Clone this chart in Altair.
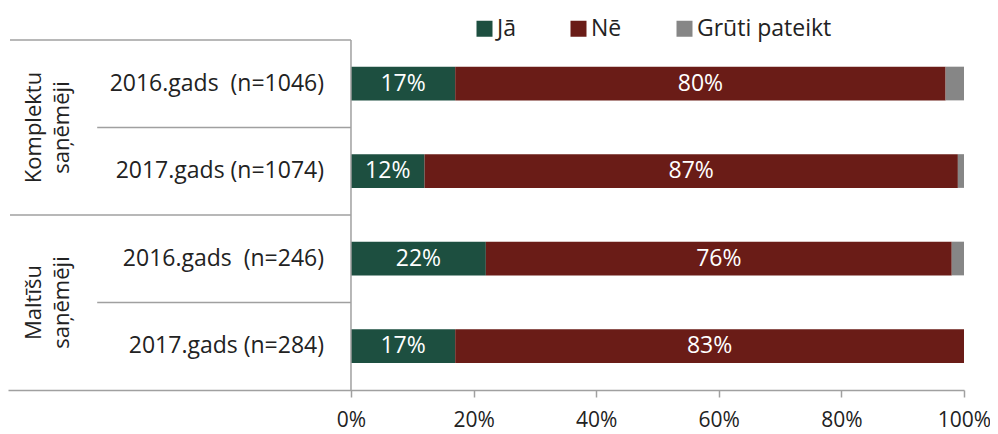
import altair as alt
import pandas as pd

# ---- data ----
categories = ["Jā", "Nē", "Grūti pateikt"]
colors = ["#1d4f40", "#6a1c17", "#868686"]
group_lines = [["Komplektu", "saņēmēji"], ["Maltīšu", "saņēmēji"]]
row_labels = ["2016.gads\u00a0\u00a0(n=1046)", "2017.gads (n=1074)",
              "2016.gads\u00a0\u00a0(n=246)", "2017.gads (n=284)"]
row_group = [0, 0, 1, 1]
ja = [17, 12, 22, 17]
ne = [80, 87, 76, 83]
gruti = [3, 1, 2, 0]
tick_values = [0, 20, 40, 60, 80, 100]

FONT = "Open Sans"
TXT = "#222222"
LINE = "#a0a0a0"
XMIN = -55.95         # left edge of the plot area (scale units)
TABLE_X = -55.63      # where the table lines start
ROWSEP_X = -41.4      # where the inner row separators start

# ---- build tables ----
seg = []
for i in range(len(row_labels)):
    cum = 0
    for c, v in zip(categories, [ja[i], ne[i], gruti[i]]):
        seg.append(dict(row=i, cat=c, x0=cum, x1=cum + v, xm=cum + v / 2,
                        ytop=i + 0.305, ybot=i + 0.69, ymid=i + 0.5,
                        label=(f"{v}%" if c != "Grūti pateikt" and v > 0 else "")))
        cum += v
seg = pd.DataFrame(seg)

rows = pd.DataFrame(dict(label=row_labels, y=[i + 0.5 for i in range(len(row_labels))]))

ngroups = len(group_lines)
gdf = []
for g in range(ngroups):
    idx = [i for i, gg in enumerate(row_group) if gg == g]
    gdf.append(dict(text=group_lines[g], y=(min(idx) + max(idx) + 1) / 2))
gdf = pd.DataFrame(gdf)

lines = []
lines.append(dict(x=TABLE_X, x2=0, y=0, y2=0))
for i in range(1, len(row_labels)):
    if row_group[i] != row_group[i - 1]:
        lines.append(dict(x=TABLE_X, x2=0, y=i, y2=i))
    else:
        lines.append(dict(x=ROWSEP_X, x2=0, y=i, y2=i))
lines.append(dict(x=0, x2=0, y=0, y2=len(row_labels)))
lines = pd.DataFrame(lines)

xscale = alt.Scale(domain=[XMIN, 100], nice=False, zero=False)
yscale = alt.Scale(domain=[0, len(row_labels)], reverse=True, nice=False, zero=False)

xaxis = alt.Axis(values=tick_values, labelExpr="datum.value + '%'", grid=False,
                 title=None, domainColor=LINE, domainWidth=1.5, tickColor=LINE,
                 tickWidth=1.5, tickSize=7,
                 labelFontSize=21, labelFont=FONT, labelColor=TXT, labelPadding=12,
                 labelFlush=False, labelOverlap=False)

bars = alt.Chart(seg).mark_rect().encode(
    x=alt.X("x0:Q", scale=xscale, axis=xaxis),
    x2="x1:Q",
    y=alt.Y("ytop:Q", scale=yscale, axis=None),
    y2="ybot:Q",
    color=alt.Color("cat:N", scale=alt.Scale(domain=categories, range=colors),
                    legend=alt.Legend(orient="none", legendX=465, legendY=-23,
                                      direction="horizontal", title=None,
                                      symbolType="square", symbolSize=256,
                                      symbolStrokeWidth=0, symbolOpacity=1,
                                      labelExpr="datum.label == 'Jā' ? 'Jā\u00a0\u00a0' : datum.label",
                                      labelFont=FONT, labelFontSize=23, labelColor=TXT,
                                      labelOffset=1, columnPadding=51, padding=0)),
)

bar_text = alt.Chart(seg).mark_text(font=FONT, fontSize=23, color="white",
                                    baseline="middle", align="center").encode(
    x=alt.X("xm:Q", scale=xscale, axis=xaxis),
    y=alt.Y("ymid:Q", scale=yscale, axis=None),
    text="label:N",
)

rules = alt.Chart(lines).mark_rule(color=LINE, strokeWidth=1.5).encode(
    x=alt.X("x:Q", scale=xscale, axis=xaxis), x2="x2:Q",
    y=alt.Y("y:Q", scale=yscale, axis=None), y2="y2:Q",
)

row_text = alt.Chart(rows).mark_text(font=FONT, fontSize=23, color=TXT,
                                     align="right", baseline="middle").encode(
    x=alt.value(316),
    y=alt.Y("y:Q", scale=yscale, axis=None),
    text="label:N",
)

group_text = alt.Chart(gdf).mark_text(font=FONT, fontSize=22, color=TXT, angle=270,
                                      align="center", baseline="middle",
                                      lineHeight=28).encode(
    x=alt.value(26),
    y=alt.Y("y:Q", scale=yscale, axis=None),
    text="text",
)

chart = alt.layer(bars, rules, bar_text, row_text, group_text).properties(
    width=956, height=350,
    autosize=alt.AutoSizeParams(type="none"),
    padding={"left": 0, "top": 32, "right": 26, "bottom": 44},
).configure_view(stroke=None)

chart.save("out.html", embed_options={"renderer": "svg", "actions": False})
